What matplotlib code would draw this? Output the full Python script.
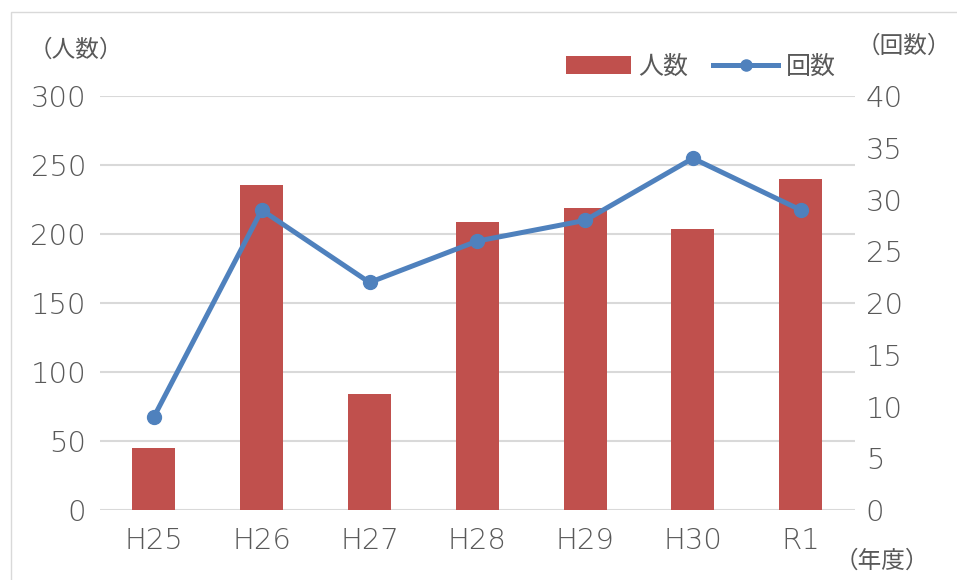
import matplotlib
matplotlib.use("Agg")
import matplotlib.pyplot as plt
from matplotlib.lines import Line2D
from matplotlib.patches import Patch, Rectangle

plt.rcParams['font.family'] = ['DejaVu Sans', 'Noto Sans CJK JP']

categories = ["H25", "H26", "H27", "H28", "H29", "H30", "R1"]
people = [45, 236, 84, 209, 219, 204, 240]
counts = [9, 29, 22, 26, 28, 34, 29]
left_ticks = [0, 50, 100, 150, 200, 250, 300]
right_ticks = [0, 5, 10, 15, 20, 25, 30, 35, 40]

bar_color = "#C0504D"
line_color = "#4F81BD"
text_color = "#595959"
grid_color = "#D9D9D9"

fig = plt.figure(figsize=(9.57, 5.80), dpi=100)
ax = fig.add_axes([0.1045, 0.1207, 0.7885, 0.7133])
ax2 = ax.twinx()

x = list(range(len(categories)))
ax.bar(x, people, width=0.4, color=bar_color, zorder=2)
ax.set_ylim(0, 300)
ax.set_yticks(left_ticks)
ax.set_xlim(-0.5, len(categories) - 0.5)
ax.set_xticks(x)
ax.set_xticklabels(categories)
ax.grid(axis='y', color=grid_color, linewidth=1.5, zorder=0)
ax.set_axisbelow(True)

ax2.plot(x, counts, color=line_color, linewidth=3.6, marker='o', markersize=10, zorder=3)
ax2.set_ylim(0, 40)
ax2.set_yticks(right_ticks)

for a in (ax, ax2):
    for s in a.spines.values():
        s.set_visible(False)
    a.tick_params(length=0, labelsize=21, colors=text_color)
    for lab in a.get_xticklabels() + a.get_yticklabels():
        lab.set_fontweight('light')
ax.tick_params(axis='x', pad=12)
ax.tick_params(axis='y', pad=10)
ax2.tick_params(axis='y', pad=8)

fig.text(0.030, 0.915, "（人数）", fontsize=17, color=text_color, ha='left', va='center')
fig.text(0.895, 0.922, "（回数）", fontsize=17, color=text_color, ha='left', va='center')
fig.text(0.872, 0.034, "（年度）", fontsize=17, color=text_color, ha='left', va='center')

handles = [Patch(facecolor=bar_color, edgecolor='none'),
           Line2D([0], [0], color=line_color, linewidth=3.6, marker='o', markersize=8)]
fig.legend(handles, ["人数", "回数"], loc='center', bbox_to_anchor=(0.732, 0.885),
           ncol=2, frameon=False, fontsize=18, labelcolor=text_color,
           handlelength=2.6, handletextpad=0.3, columnspacing=1.0)

fig.patches.append(Rectangle((0.012, -0.01), 1.2, 0.99, transform=fig.transFigure,
                             fill=False, edgecolor=grid_color, linewidth=1.0))

fig.savefig("out.png", dpi=100)
